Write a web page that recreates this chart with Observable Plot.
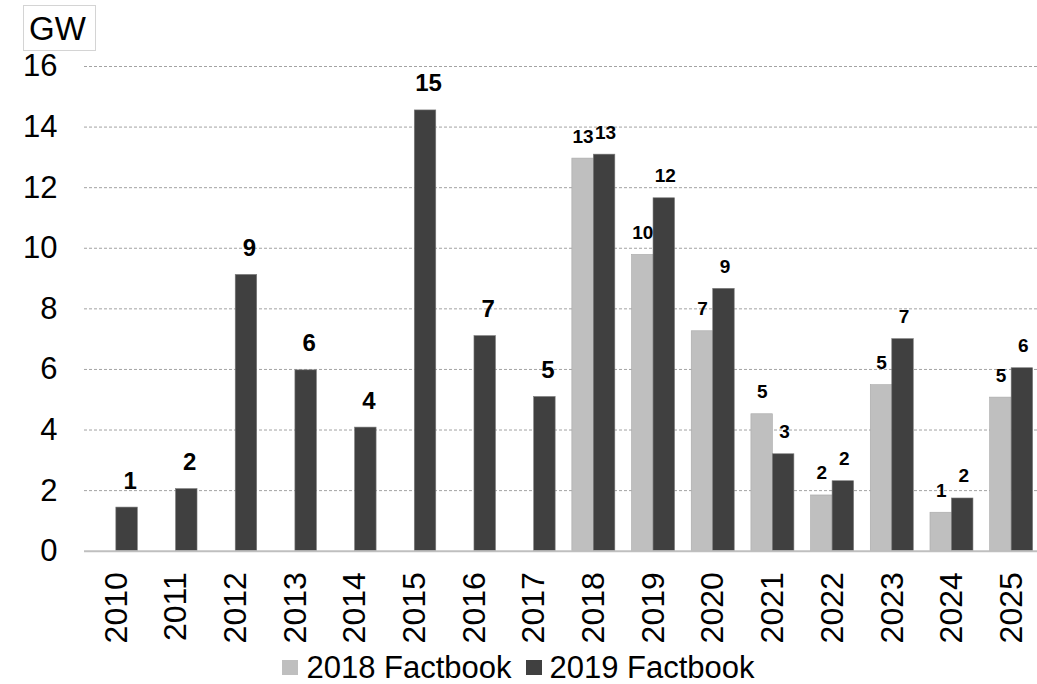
<!DOCTYPE html>
<html>
<head>
<meta charset="utf-8">
<script src="https://cdn.jsdelivr.net/npm/d3@7"></script>
<script src="https://cdn.jsdelivr.net/npm/@observablehq/plot@0.6"></script>
<style>
  html, body { margin: 0; padding: 0; background: #fff; }
  #wrap { position: relative; width: 1037px; height: 684px; font-family: "Liberation Sans", Arial, sans-serif; color: #000; }
  #unit {
    position: absolute; left: 23px; top: 5px; width: 73px; height: 46px;
    box-sizing: border-box; border: 1px solid #d4d4d4; padding: 4px 0 0 5px;
    font-size: 33px; line-height: normal;
  }
  #legend {
    position: absolute; left: 0; top: 650px; width: 1037px; height: 34px;
    display: flex; justify-content: center; align-items: center;
    font-size: 31px; line-height: 31px;
  }
  .sw { display: inline-block; width: 16px; height: 15px; margin-right: 8px; }
  .item { display: flex; align-items: center; }
  .item + .item { margin-left: 14px; }
</style>
</head>
<body>
<div id="wrap">
  <div id="chart"></div>
  <div id="unit">GW</div>
  <div id="legend"></div>
</div>
<script>
// Annual capacity additions (GW) as reported in two editions of the factbook
const years = ["2010", "2011", "2012", "2013", "2014", "2015", "2016", "2017",
               "2018", "2019", "2020", "2021", "2022", "2023", "2024", "2025"];
const factbook2018 = [null, null, null, null, null, null, null, null,
                      12.96, 9.78, 7.26, 4.52, 1.84, 5.48, 1.27, 5.07];
const factbook2019 = [1.44, 2.05, 9.12, 5.97, 4.08, 14.55, 7.10, 5.09,
                      13.09, 11.65, 8.66, 3.20, 2.31, 7.00, 1.74, 6.04];
const seriesNames = ["2018 Factbook", "2019 Factbook"];
const seriesColors = ["#bfbfbf", "#404040"];
const yTicks = [0, 2, 4, 6, 8, 10, 12, 14, 16];

const rows2018 = years.map((year, i) => ({year, value: factbook2018[i]})).filter(d => d.value != null);
const rows2019 = years.map((year, i) => ({year, value: factbook2019[i]}));
const paired = new Set(rows2018.map(d => d.year));

// Band layout: each year holds a pair of adjacent bars
const xRange = [86, 1041];
const paddingInner = 0.28, paddingOuter = 0.14;
const step = (xRange[1] - xRange[0]) / (years.length - paddingInner + 2 * paddingOuter);
const bandwidth = step * (1 - paddingInner);
const half = bandwidth / 2;
const label = d => String(Math.round(d.value));

const chart = Plot.plot({
  width: 1037,
  height: 648,
  marginLeft: 84,
  marginRight: 0,
  marginTop: 66,
  marginBottom: 97.3,
  style: {fontFamily: "'Liberation Sans', Arial, sans-serif", background: "#fff", color: "#000", overflow: "visible"},
  x: {domain: years, range: xRange, paddingInner, paddingOuter, round: false, label: null},
  y: {domain: [0, 16], label: null},
  marks: [
    Plot.gridY(yTicks.filter(t => t > 0), {stroke: "#a3a3a3", strokeOpacity: 1, strokeDasharray: "3,2", strokeWidth: 1}),
    Plot.axisY(yTicks, {tickSize: 0, tickPadding: 27, fontSize: 31, label: null}),
    Plot.axisX({tickSize: 0, tickPadding: 21, tickRotate: -90, fontSize: 32, label: null}),
    Plot.barY(rows2018, {x: "year", y: "value", fill: seriesColors[0], stroke: "#a8a8a8", strokeWidth: 0.6, insetRight: half}),
    Plot.barY(rows2019, {x: "year", y: "value", fill: seriesColors[1], stroke: "#7a7a7a", strokeWidth: 0.6, insetLeft: half}),
    Plot.ruleY([0], {stroke: "#bfbfbf", strokeWidth: 2}),
    // single-series years carry larger value labels
    Plot.text(rows2019.filter(d => !paired.has(d.year)), {
      x: "year", y: "value", text: label, dx: half / 2 + 3, dy: -19,
      lineAnchor: "bottom", fontWeight: "bold", fontSize: 24
    }),
    Plot.text(rows2018, {
      x: "year", y: "value", text: label, dx: -half / 2, dy: -16,
      lineAnchor: "bottom", fontWeight: "bold", fontSize: 19
    }),
    Plot.text(rows2019.filter(d => paired.has(d.year)), {
      x: "year", y: "value", text: label, dx: half / 2 + 1, dy: -16,
      lineAnchor: "bottom", fontWeight: "bold", fontSize: 19
    })
  ]
});
document.getElementById("chart").appendChild(chart);

const legend = document.getElementById("legend");
seriesNames.forEach((name, i) => {
  const item = document.createElement("span");
  item.className = "item";
  const sw = document.createElement("span");
  sw.className = "sw";
  sw.style.background = seriesColors[i];
  item.appendChild(sw);
  item.appendChild(document.createTextNode(name));
  legend.appendChild(item);
});
</script>
</body>
</html>
